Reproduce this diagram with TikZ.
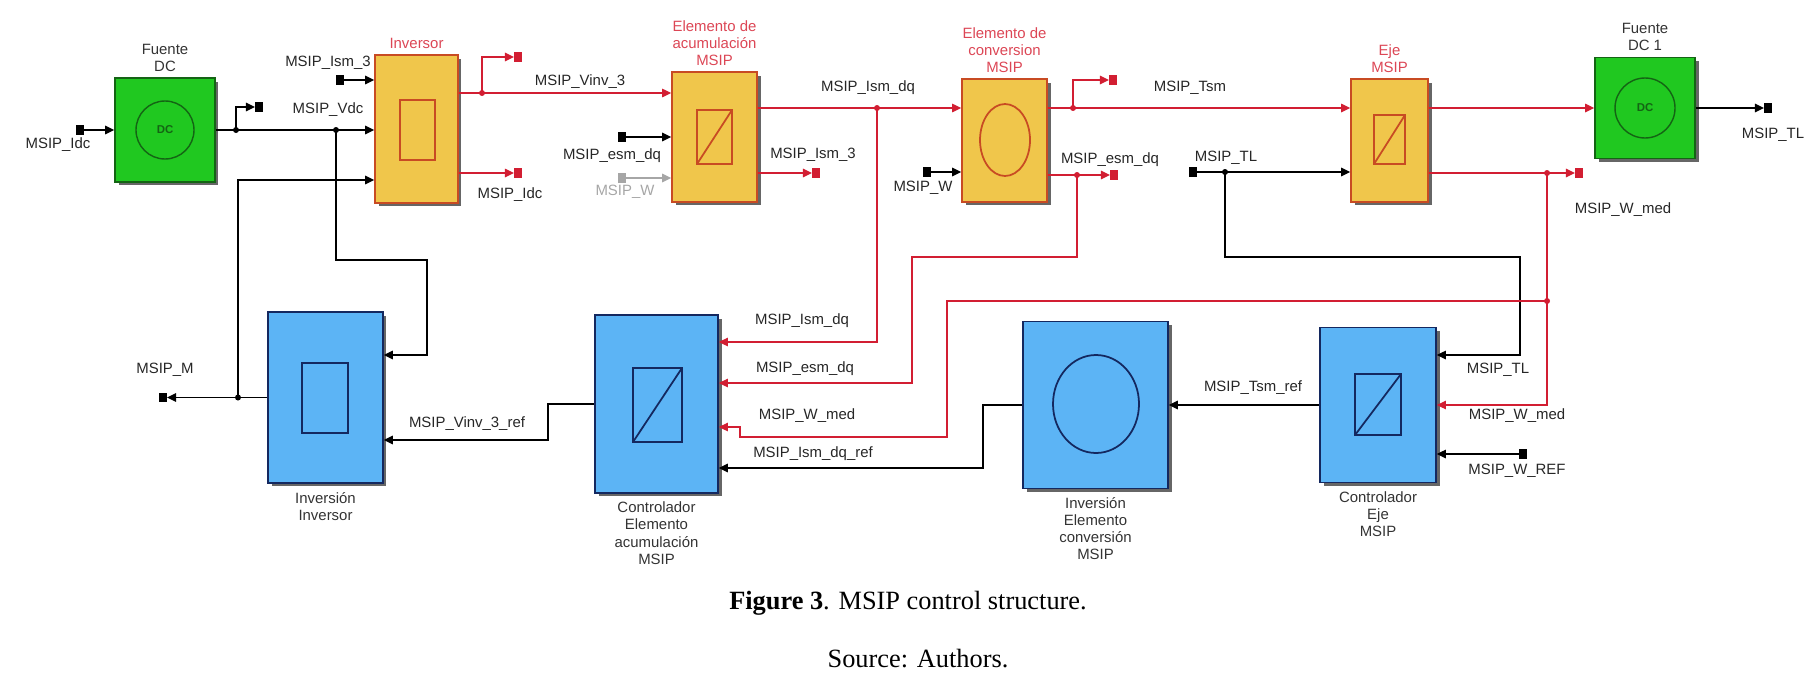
\documentclass[tikz,border=0pt]{standalone}
\usepackage{fontspec}
\setmainfont{Liberation Serif}
\setsansfont{Liberation Sans}
\usetikzlibrary{arrows.meta,shadows}

\definecolor{amarillo}{RGB}{240,198,75}
\definecolor{borde}{RGB}{200,75,35}
\definecolor{verde}{RGB}{32,200,32}
\definecolor{verdeosc}{RGB}{20,100,20}
\definecolor{azul}{RGB}{92,180,245}
\definecolor{marino}{RGB}{20,40,95}
\definecolor{rojo}{RGB}{210,30,50}
\definecolor{titulo}{RGB}{220,70,85}

\begin{document}
\begin{tikzpicture}[x=0.02cm,y=-0.02cm,
  font=\sffamily\fontsize{8.5}{9.7}\selectfont,
  sombra/.style={drop shadow={shadow xshift=0.07cm,shadow yshift=-0.07cm,fill=black,opacity=0.6}},
  amar/.style={draw=borde,fill=amarillo,line width=1pt,inner sep=0,sombra},
  verd/.style={draw=verdeosc,fill=verde,line width=1pt,inner sep=0,sombra},
  azu/.style={draw=marino,fill=azul,line width=1pt,inner sep=0,sombra},
  tag/.style={fill=black,minimum width=0.15cm,minimum height=0.19cm,inner sep=0},
  tagr/.style={tag,fill=rojo},
  lin/.style={line width=0.8pt,-{Triangle[length=0.18cm,width=0.17cm]}},
  sen/.style={lin,draw=rojo,line width=0.7pt},
  lbl/.style={text=black!85,inner sep=0},
  tit/.style={text=titulo,align=center,inner sep=1pt},
  titn/.style={tit,text=black!80}]
\useasboundingbox (0,0) rectangle (1817,676);

% bloques
\node[verd,minimum width=2cm,minimum height=2.08cm] (fdc) at (165,130) {};
\node[amar,minimum width=1.66cm,minimum height=2.96cm] (inv) at (416.5,129) {};
\node[amar,minimum width=1.7cm,minimum height=2.6cm] (acu) at (714.5,137) {};
\node[amar,minimum width=1.7cm,minimum height=2.46cm] (conv) at (1004.5,140.5) {};
\node[amar,minimum width=1.54cm,minimum height=2.46cm] (eje) at (1389.5,140.5) {};
\node[verd,minimum width=2cm,minimum height=2.02cm] (fdc1) at (1645,108) {};
\node[azu,minimum width=2.3cm,minimum height=3.42cm] (iinv) at (325.5,397.5) {};
\node[azu,minimum width=2.46cm,minimum height=3.56cm] (cacu) at (656.5,404) {};
\node[azu,minimum width=2.9cm,minimum height=3.34cm] (iconv) at (1095.5,405) {};
\node[azu,minimum width=2.32cm,minimum height=3.1cm] (ceje) at (1378,405) {};

% simbolos
\draw[verdeosc,line width=0.8pt] (fdc.center) circle (29) (fdc1.center) circle (30);
\node[text=verdeosc,font=\sffamily\bfseries\fontsize{6.5}{7}\selectfont] (dc) at (fdc) {DC};
\node[text=verdeosc,font=\sffamily\bfseries\fontsize{6.5}{7}\selectfont] (dc1) at (fdc1) {DC};
\draw[borde,line width=1pt] (400,100) rectangle (435,160);
\draw[borde,line width=1pt] (697,110) rectangle (732,164) (697,164) -- (732,110);
\draw[borde,line width=1pt] (1005,140) ellipse (25 and 36);
\draw[borde,line width=1pt] (1374,115) rectangle (1405,164) (1374,164) -- (1405,115);
\draw[marino,line width=1pt] (302,363) rectangle (348,433);
\draw[marino,line width=1pt] (633,368) rectangle (682,442) (633,442) -- (682,368);
\draw[marino,line width=1pt] (1096,404) ellipse (43 and 49);
\draw[marino,line width=1pt] (1355,374) rectangle (1401,435) (1355,435) -- (1401,374);

% titulos
\node[titn,anchor=south] (tfdc) at ([yshift=2pt]fdc.north) {Fuente\\DC};
\node[tit,anchor=south] (tinv) at ([yshift=2pt]inv.north) {Inversor};
\node[tit,anchor=south] (tacu) at ([yshift=2pt]acu.north) {Elemento de\\acumulación\\MSIP};
\node[tit,anchor=south] (tconv) at ([yshift=2pt]conv.north) {Elemento de\\conversion\\MSIP};
\node[tit,anchor=south] (teje) at ([yshift=2pt]eje.north) {Eje\\MSIP};
\node[titn,anchor=south] (tfdc1) at ([yshift=2pt]fdc1.north) {Fuente\\DC 1};
\node[titn,anchor=north] (tiinv) at ([yshift=-3.5pt]iinv.south) {Inversión\\Inversor};
\node[titn,anchor=north] (tcacu) at ([yshift=-3.5pt]cacu.south) {Controlador\\Elemento\\acumulación\\MSIP};
\node[titn,anchor=north] (ticonv) at ([yshift=-3.5pt]iconv.south) {Inversión\\Elemento\\conversión\\MSIP};
\node[titn,anchor=north] (tceje) at ([yshift=-3.5pt]ceje.south) {Controlador\\Eje\\MSIP};

% etiquetas de entrada/salida
\node[tag] (tIdc) at (80,130) {};
\node[tag] (tVdc) at (259,107) {};
\node[tag] (tIsm) at (340,80) {};
\node[tag] (tM) at (163,397.5) {};
\node[tagr] (tVinv) at (518,57) {};
\node[tagr] (tIdcB) at (518,173) {};
\node[tag] (tEsm) at (622,137) {};
\node[tag,fill=black!35] (tW) at (622,178) {};
\node[tagr] (tIsmB) at (816,173) {};
\node[tag] (tW2) at (927,172) {};
\node[tagr] (tTsm) at (1113,80) {};
\node[tagr] (tEsmB) at (1114,175) {};
\node[tag] (tTL) at (1193,172) {};
\node[tagr] (tWmed) at (1579,173) {};
\node[tag] (tTLB) at (1768,108) {};
\node[tag] (tWref) at (1523,454) {};

\coordinate (jA) at (236,130);
\coordinate (jB) at (336,130);
\coordinate (jC) at (238,397.5);
\coordinate (jD) at (482,93);
\coordinate (jE) at (877,108);
\coordinate (jF) at (1073,108);
\coordinate (jG) at (1077,175);
\coordinate (jH) at (1225,172);
\coordinate (jI) at (1547,173);
\coordinate (jJ) at (1547,301);

% conexiones
\draw[lin] (tIdc) -- (fdc);
\draw[lin] (fdc) -- (inv.west |- fdc);
\draw[lin] (jA) |- (tVdc);
\coordinate (kB) at (427,355);
\draw[lin] (jB) -- ++(0,130) -| (kB) -- (iinv.east |- kB);
\draw[lin] (tIsm) -- (inv.west |- tIsm);
\draw[lin] (iinv) -- (tM);
\coordinate (kC) at (238,180);
\draw[lin] (jC) -- (kC) -- (inv.west |- kC);
\draw[sen] (inv.east |- jD) -- (jD) -- (acu.west |- jD);
\draw[sen] (jD) |- (tVinv);
\draw[sen] (inv.east |- tIdcB) -- (tIdcB);
\draw[lin] (tEsm) -- (acu.west |- tEsm);
\draw[lin,draw=black!35] (tW) -- (acu.west |- tW);
\draw[sen] (acu.east |- jE) -- (jE) -- (conv.west |- jE);
\coordinate (kE) at (877,342);
\draw[sen] (jE) -- (kE) -- (cacu.east |- kE);
\draw[sen] (acu.east |- tIsmB) -- (tIsmB);
\draw[lin] (tW2) -- (conv.west |- tW2);
\draw[sen] (conv.east |- jF) -- (jF) -- (eje.west |- jF);
\draw[sen] (jF) |- (tTsm);
\draw[sen] (conv.east |- jG) -- (jG) -- (tEsmB);
\coordinate (kG) at (912,383);
\draw[sen] (jG) -- ++(0,82) -| (kG) -- (cacu.east |- kG);
\draw[lin] (tTL) -- (eje.west |- tTL);
\coordinate (kH) at (1520,355);
\draw[lin] (jH) -- ++(0,85) -| (kH) -- (ceje.east |- kH);
\draw[sen] (eje.east |- fdc1) -- (fdc1);
\draw[sen] (eje.east |- jI) -- (jI) -- (tWmed);
\coordinate (kI) at (1547,405);
\draw[sen] (jI) -- (kI) -- (ceje.east |- kI);
\coordinate (kJ) at (740,427);
\draw[sen] (jJ) -- (947,301) -- (947,437) -| (kJ) -- (cacu.east |- kJ);
\draw[lin] (fdc1) -- (tTLB);
\draw[lin] (tWref) -- (ceje.east |- tWref);
\draw[lin] (ceje) -- (iconv);
\coordinate (kL) at (983,468);
\draw[lin] (iconv) -| (kL) -- (cacu.east |- kL);
\coordinate (kM) at (548,440);
\draw[lin] (cacu) -| (kM) -- (iinv.east |- kM);

\foreach \j in {jA,jB,jC,jH} \fill (\j) circle (3);
\foreach \j in {jD,jE,jF,jG,jI,jJ} \fill[rojo] (\j) circle (3);

% nombres de senales
\foreach \px/\py/\txt/\nm in {58/145/MSIP\_Idc/l1, 328/110/MSIP\_Vdc/l2, 328/63/MSIP\_Ism\_3/l3,
  165/370/MSIP\_M/l4, 467/424/MSIP\_Vinv\_3\_ref/l5, 580/82/MSIP\_Vinv\_3/l6,
  510/195/MSIP\_Idc/l7, 612/156/MSIP\_esm\_dq/l8, 868/88/MSIP\_Ism\_dq/l9,
  813/155/MSIP\_Ism\_3/l10, 923/188/MSIP\_W/l11, 1190/88/MSIP\_Tsm/l12,
  1110/160/MSIP\_esm\_dq/l13, 1226/158/MSIP\_TL/l14, 1623/210/MSIP\_W\_med/l15,
  1773/135/MSIP\_TL/l16, 802/321/MSIP\_Ism\_dq/l17, 805/369/MSIP\_esm\_dq/l18,
  807/416/MSIP\_W\_med/l19, 813/454/MSIP\_Ism\_dq\_ref/l20, 1253/388/MSIP\_Tsm\_ref/l21,
  1498/370/MSIP\_TL/l22, 1517/416/MSIP\_W\_med/l23, 1517/471/MSIP\_W\_REF/l24}
  {\node[lbl] (\nm) at (\px,\py) {\txt};}
\node[lbl,text=black!35] (l25) at (625,192) {MSIP\_W};

% pie
\node[font=\rmfamily\fontsize{15}{18}\selectfont,inner sep=0] (fig) at (908,603) {\textbf{Figure 3}. MSIP control structure.};
\node[font=\rmfamily\fontsize{15}{18}\selectfont,inner sep=0] (src) at (918,659) {Source: Authors.};
\end{tikzpicture}
\end{document}
